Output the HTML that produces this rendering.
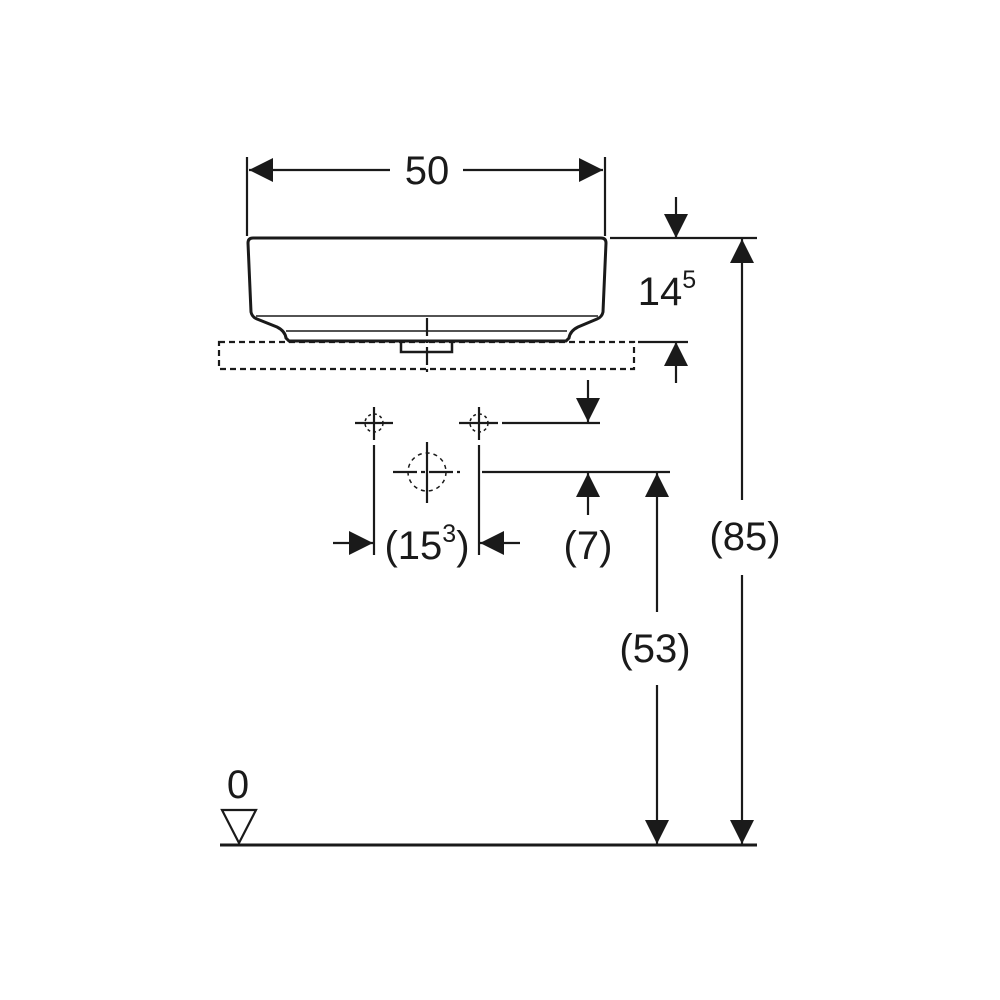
<!DOCTYPE html>
<html><head><meta charset="utf-8"><style>
html,body{margin:0;padding:0;background:#fff;}
svg{display:block;}
text{font-family:"Liberation Sans",Arial,sans-serif;fill:#1a1a1a;}
</style></head><body>
<svg width="1000" height="1000" viewBox="0 0 1000 1000" xmlns="http://www.w3.org/2000/svg">
<defs>
<marker id="a" viewBox="0 0 24 24" refX="24" refY="12" markerWidth="24" markerHeight="24" markerUnits="userSpaceOnUse" orient="auto">
<path d="M0,0 L24,12 L0,24 Z" fill="#1a1a1a"/>
</marker>
</defs>
<g stroke="#1a1a1a" fill="none" stroke-width="2.2">
<line x1="247" y1="157" x2="247" y2="236"/>
<line x1="605" y1="157" x2="605" y2="236"/>
<line x1="390" y1="170" x2="249" y2="170" marker-end="url(#a)"/>
<line x1="463" y1="170" x2="603" y2="170" marker-end="url(#a)"/>
<path d="M253,238 L601,238 Q606,238 606,243 L603,312 Q602,317 597,319 L578,327 Q570,331 569,338 L566,341 L289,341 L286,338 Q285,331 277,327 L257,319 Q252,317 251,312 L248,243 Q248,238 253,238 Z" stroke-width="3"/>
<line x1="256" y1="316" x2="598" y2="316" stroke-width="1.5"/>
<line x1="286" y1="331" x2="567" y2="331" stroke-width="1.5"/>
<path d="M401,342 L401,352 L452,352 L452,342" stroke-width="2.5"/>
<rect x="219" y="342" width="415" height="27" stroke-dasharray="6,4"/>
<line x1="427" y1="318" x2="427" y2="376" stroke-dasharray="18,4,3,4"/>
<line x1="610" y1="238" x2="757" y2="238"/>
<line x1="676" y1="197" x2="676" y2="238" marker-end="url(#a)"/>
<line x1="638" y1="342" x2="688" y2="342"/>
<line x1="676" y1="383" x2="676" y2="342" marker-end="url(#a)"/>
<line x1="742" y1="500" x2="742" y2="239" marker-end="url(#a)"/>
<line x1="742" y1="575" x2="742" y2="844" marker-end="url(#a)"/>
<line x1="220" y1="845" x2="757" y2="845" stroke-width="3"/>
<path d="M222,810 L256,810 L239,843 Z"/>
<line x1="657" y1="612" x2="657" y2="473" marker-end="url(#a)"/>
<line x1="657" y1="685" x2="657" y2="844" marker-end="url(#a)"/>
<line x1="393" y1="472" x2="460" y2="472" stroke-dasharray="24,4,4,4"/>
<line x1="482" y1="472" x2="670" y2="472"/>
<line x1="502" y1="423" x2="600" y2="423"/>
<line x1="588" y1="380" x2="588" y2="422" marker-end="url(#a)"/>
<line x1="588" y1="515" x2="588" y2="473" marker-end="url(#a)"/>
<line x1="355" y1="423" x2="393" y2="423"/>
<line x1="374" y1="407" x2="374" y2="440"/>
<circle cx="374" cy="423" r="9" stroke-dasharray="3,3" stroke-width="1.5"/>
<line x1="459" y1="423" x2="498" y2="423"/>
<line x1="479" y1="407" x2="479" y2="440"/>
<circle cx="479" cy="423" r="9" stroke-dasharray="3,3" stroke-width="1.5"/>
<circle cx="427" cy="472" r="19" stroke-dasharray="4,4" stroke-width="1.5"/>
<line x1="427" y1="442" x2="427" y2="503"/>
<line x1="374" y1="445" x2="374" y2="555"/>
<line x1="479" y1="445" x2="479" y2="555"/>
<line x1="333" y1="543" x2="373" y2="543" marker-end="url(#a)"/>
<line x1="520" y1="543" x2="480" y2="543" marker-end="url(#a)"/>
</g>
<g font-size="40" text-anchor="middle">
<text x="427" y="184">50</text>
<text x="667" y="305">14<tspan font-size="25" dy="-17">5</tspan></text>
<text x="745" y="550">(85)</text>
<text x="655" y="662">(53)</text>
<text x="588" y="559">(7)</text>
<text x="427" y="559">(15<tspan font-size="25" dy="-17">3</tspan><tspan dy="17">)</tspan></text>
<text x="238" y="798">0</text>
</g>
</svg>
</body></html>
